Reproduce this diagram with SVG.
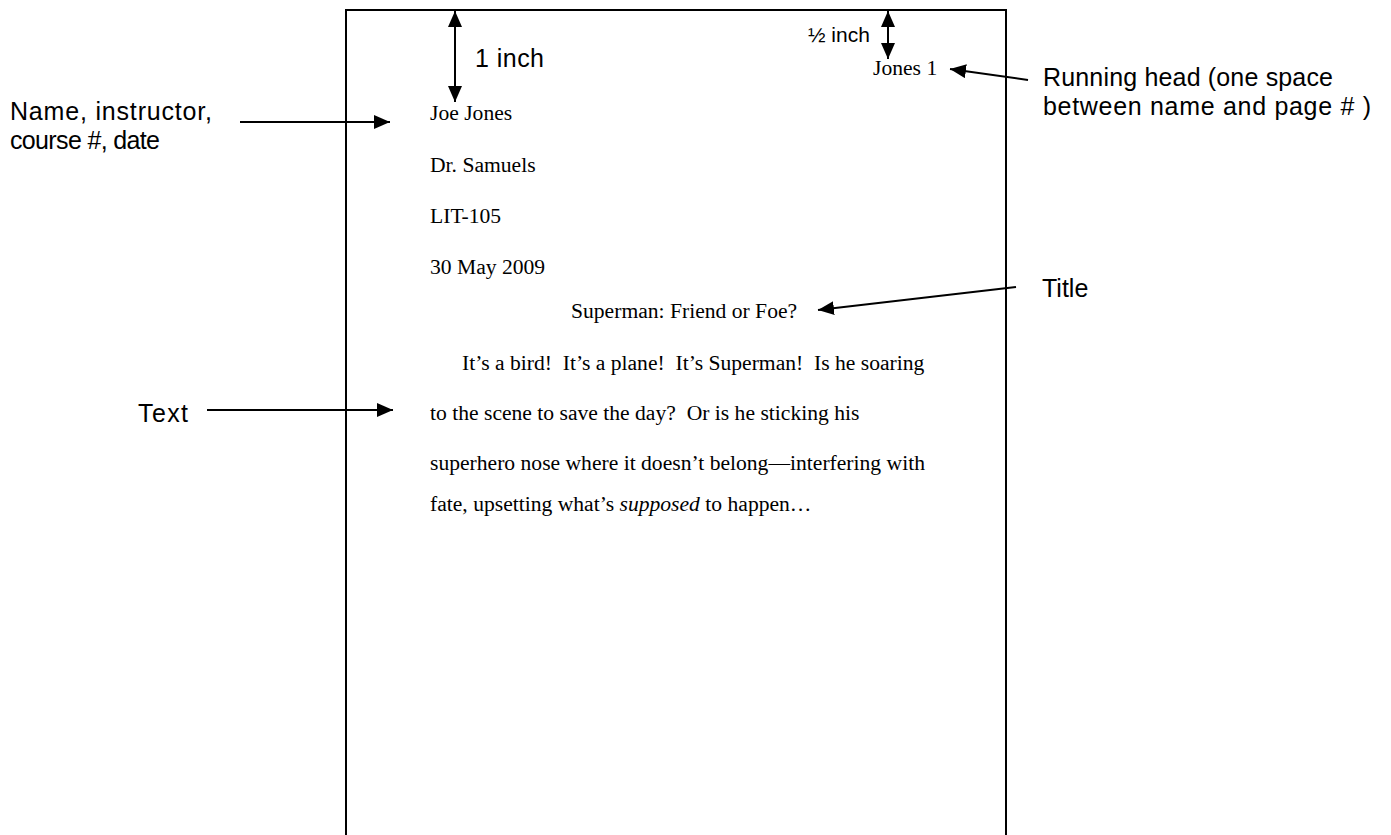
<svg xmlns="http://www.w3.org/2000/svg" width="1391" height="835" viewBox="0 0 1391 835">
<defs>
<marker id="ah" viewBox="0 0 16 14" refX="16" refY="7" markerWidth="16" markerHeight="14" markerUnits="userSpaceOnUse" orient="auto-start-reverse">
<path d="M0,0 L16,7 L0,14 Z" fill="#000"/>
</marker>
<style>
.lbl{font-family:"Liberation Sans",Arial,sans-serif;font-size:25px;fill:#000}
.sm{font-size:21px}
.pg{font-family:"Liberation Serif","Times New Roman",serif;font-size:21.6px;fill:#000;white-space:pre}
.ln{stroke:#000;stroke-width:2;fill:none}
</style>
</defs>
<rect width="1391" height="835" fill="#fff"/>
<g id="page">
<path class="ln" d="M346,900 V10 H1006 V900"/>
</g>
<g id="page-text">
<text class="pg" x="873" y="75">Jones 1</text>
<text class="pg" x="430" y="120">Joe Jones</text>
<text class="pg" x="430" y="172">Dr. Samuels</text>
<text class="pg" x="430" y="223">LIT-105</text>
<text class="pg" x="430" y="274">30 May 2009</text>
<text class="pg" x="571" y="318">Superman: Friend or Foe?</text>
<text class="pg" x="462" y="370">It’s a bird!  It’s a plane!  It’s Superman!  Is he soaring</text>
<text class="pg" x="430" y="420">to the scene to save the day?  Or is he sticking his</text>
<text class="pg" x="430" y="470">superhero nose where it doesn’t belong—interfering with</text>
<text class="pg" x="430" y="511">fate, upsetting what’s <tspan font-style="italic">supposed</tspan> to happen…</text>
</g>
<g id="label-one-inch"><text class="lbl" x="475" y="67" textLength="69">1 inch</text></g>
<g id="label-half-inch"><text class="lbl sm" x="808" y="42">½ inch</text></g>
<g id="label-running-head">
<text class="lbl" x="1043" y="86" textLength="290">Running head (one space</text>
<text class="lbl" x="1043" y="115" textLength="328">between name and page # )</text>
</g>
<g id="label-name">
<text class="lbl" x="10" y="120" textLength="202">Name, instructor,</text>
<text class="lbl" x="10" y="149" textLength="150">course #, date</text>
</g>
<g id="label-title"><text class="lbl" x="1042" y="297">Title</text></g>
<g id="label-text"><text class="lbl" x="138" y="422" textLength="50">Text</text></g>
<g id="connectors">
<line class="ln" x1="455" y1="11" x2="455" y2="102" marker-start="url(#ah)" marker-end="url(#ah)"/>
<line class="ln" x1="888" y1="11" x2="888" y2="59" marker-start="url(#ah)" marker-end="url(#ah)"/>
<line class="ln" x1="1028" y1="80" x2="950" y2="69" marker-end="url(#ah)"/>
<line class="ln" x1="240" y1="122" x2="390" y2="122" marker-end="url(#ah)"/>
<line class="ln" x1="1016" y1="287" x2="818" y2="310" marker-end="url(#ah)"/>
<line class="ln" x1="207" y1="410" x2="393" y2="410" marker-end="url(#ah)"/>
</g>
</svg>
